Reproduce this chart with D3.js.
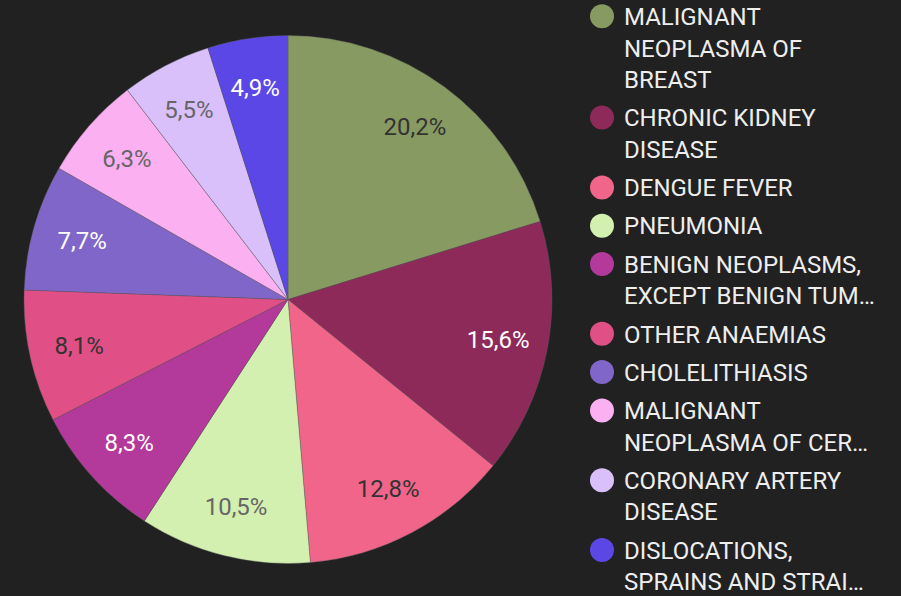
<!DOCTYPE html>
<html>
<head>
<meta charset="utf-8">
<script src="https://cdn.jsdelivr.net/npm/d3@7"></script>
<style>
  html, body { margin: 0; padding: 0; background: #212121; }
  svg { display: block; font-family: Roboto, "Noto Sans", sans-serif; }
</style>
</head>
<body>
<svg id="chart"></svg>
<script>
// data
const categories = [
  'MALIGNANT NEOPLASMA OF BREAST',
  'CHRONIC KIDNEY DISEASE',
  'DENGUE FEVER',
  'PNEUMONIA',
  'BENIGN NEOPLASMS, EXCEPT BENIGN TUM…',
  'OTHER ANAEMIAS',
  'CHOLELITHIASIS',
  'MALIGNANT NEOPLASMA OF CER…',
  'CORONARY ARTERY DISEASE',
  'DISLOCATIONS, SPRAINS AND STRAI…'
];
const legendLines = [
  ['MALIGNANT', 'NEOPLASMA OF', 'BREAST'],
  ['CHRONIC KIDNEY', 'DISEASE'],
  ['DENGUE FEVER'],
  ['PNEUMONIA'],
  ['BENIGN NEOPLASMS,', 'EXCEPT BENIGN TUM…'],
  ['OTHER ANAEMIAS'],
  ['CHOLELITHIASIS'],
  ['MALIGNANT', 'NEOPLASMA OF CER…'],
  ['CORONARY ARTERY', 'DISEASE'],
  ['DISLOCATIONS,', 'SPRAINS AND STRAI…']
];
const shares = [20.2, 15.6, 12.8, 10.5, 8.3, 8.1, 7.7, 6.3, 5.5, 4.9];
const palette = ['#879a62', '#8e2a5a', '#f2658a', '#d4f0b0', '#b3399b',
  '#e04f85', '#8166c9', '#fbb0f2', '#d9c0fb', '#5b46e6'];

const width = 901, height = 596;
const cx = 288, cy = 299.5, radius = 264;

const svg = d3.select('#chart').attr('width', width).attr('height', height);

const color = d3.scaleOrdinal().domain(categories).range(palette);
const pie = d3.pie().sort(null).value((d) => d.value);
const arc = d3.arc().innerRadius(0).outerRadius(radius);
const labelArc = d3.arc().innerRadius(214).outerRadius(214);
const fmt = (v) => v.toFixed(1).replace('.', ',') + '%';

const rows = categories.map((c, i) => ({ name: c, value: shares[i] }));

const g = svg.append('g').attr('transform', `translate(${cx},${cy})`);

g.selectAll('path')
  .data(pie(rows))
  .join('path')
  .attr('d', arc)
  .attr('fill', (d) => color(d.data.name))
  .attr('stroke', '#5a5a5a')
  .attr('stroke-width', 0.4);

// label colour follows slice lightness
function labelColor(fill) {
  const l = d3.lab(fill).l;
  if (l > 80) return '#666666';
  if (l > 52) return '#333333';
  return '#ffffff';
}

g.selectAll('text.pct')
  .data(pie(rows))
  .join('text')
  .attr('class', 'pct')
  .attr('transform', (d) => `translate(${labelArc.centroid(d)})`)
  .attr('text-anchor', 'middle')
  .attr('dominant-baseline', 'central')
  .attr('font-size', '24px')
  .attr('fill', (d) => labelColor(color(d.data.name)))
  .text((d) => fmt(d.data.value));

// legend
const lineH = 31.5, gap = 38.3;
let base = 25;
const legend = svg.append('g');
categories.forEach((c, i) => {
  const lines = legendLines[i];
  const item = legend.append('g');
  item.append('circle')
    .attr('cx', 602)
    .attr('cy', base - 8.7)
    .attr('r', 12)
    .attr('fill', color(c));
  const t = item.append('text')
    .attr('x', 624)
    .attr('y', base)
    .attr('font-size', '24px')
    .attr('fill', '#eeeeee');
  lines.forEach((ln, j) => {
    t.append('tspan').attr('x', 624).attr('y', base + j * lineH).text(ln);
  });
  base += (lines.length - 1) * lineH + gap;
});
</script>
</body>
</html>
